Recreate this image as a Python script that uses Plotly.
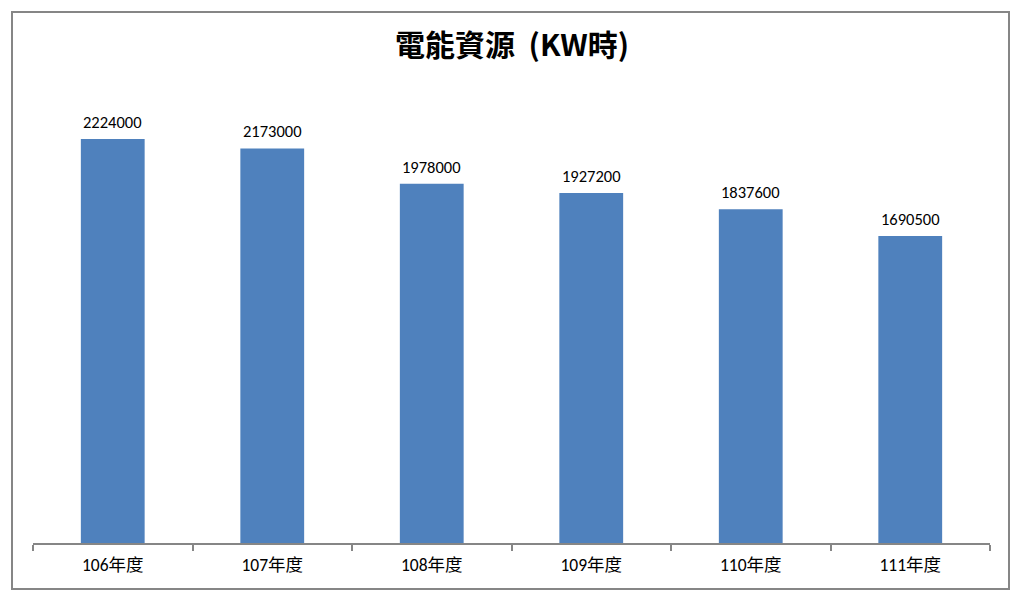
import plotly.graph_objects as go

categories = ["106年度", "107年度", "108年度", "109年度", "110年度", "111年度"]
values = [2224000, 2173000, 1978000, 1927200, 1837600, 1690500]
value_labels = [str(v) for v in values]
title_text = "電能資源&nbsp;&nbsp;(KW時)"

FONT = "Carlito, Noto Sans, Noto Sans CJK TC, sans-serif"

fig = go.Figure(
    go.Bar(
        x=categories,
        y=values,
        marker=dict(color="#4F81BD", line=dict(width=0)),
        width=0.4,
        hoverinfo="x+y",
    )
)

for c, v, lab in zip(categories, values, value_labels):
    fig.add_annotation(
        x=c, y=v, xref="x", yref="y",
        text=lab, showarrow=False,
        yanchor="middle", yshift=17,
        font=dict(size=16.5, color="#000000", family=FONT),
    )

L, R, T, B = 33, 34, 89, 59
W, H = 1024, 602
pw, ph = W - L - R, H - T - B

def px(xp):
    return (xp - L) / pw

def py(yp):
    return (H - B - yp) / ph

fig.update_layout(
    width=W,
    height=H,
    margin=dict(l=L, r=R, t=T, b=B),
    paper_bgcolor="white",
    plot_bgcolor="white",
    font=dict(family=FONT, color="#000000"),
    title=dict(
        text="<b>" + title_text + "</b>",
        x=0.5,
        xanchor="center",
        y=1 - 45 / H,
        yanchor="middle",
        font=dict(family="Noto Sans CJK TC, sans-serif", size=30, color="#000000"),
    ),
    showlegend=False,
    xaxis=dict(
        type="category",
        showline=True,
        linecolor="#868686",
        linewidth=1.5,
        ticks="outside",
        tickson="boundaries",
        ticklen=6,
        tickcolor="#868686",
        tickwidth=1.5,
        showgrid=False,
        ticklabelstandoff=5,
        tickfont=dict(size=17.5, color="#000000", family=FONT),
        fixedrange=True,
    ),
    yaxis=dict(
        range=[0, 2500000],
        visible=False,
        showgrid=False,
        zeroline=False,
        fixedrange=True,
    ),
    shapes=[
        dict(
            type="rect",
            xref="paper",
            yref="paper",
            x0=px(12),
            x1=px(1009),
            y0=py(589),
            y1=py(12),
            line=dict(color="#868686", width=2),
            fillcolor="rgba(0,0,0,0)",
            layer="below",
        )
    ],
)

fig.write_html(
    "out.html",
    config={"displayModeBar": False},
    post_script="document.body.style.margin='0';document.body.style.overflow='hidden';",
)
